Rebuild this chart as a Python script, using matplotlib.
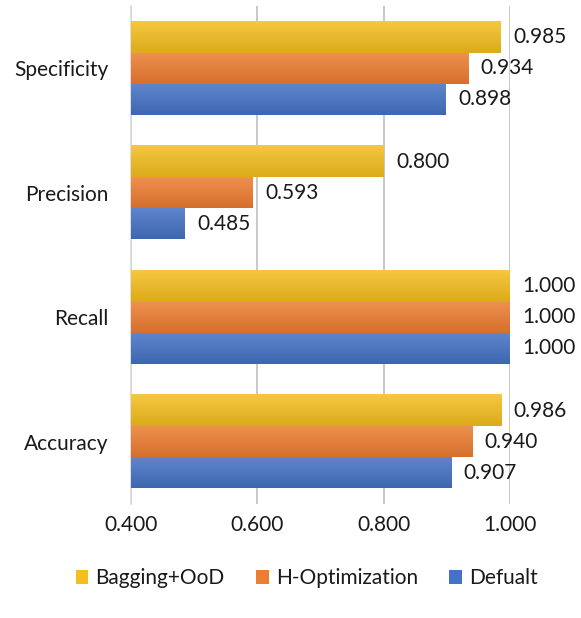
import numpy as np
import matplotlib.pyplot as plt
from matplotlib.colors import to_rgb

# ---- data ----------------------------------------------------------------
categories = ["Accuracy", "Recall", "Precision", "Specificity"]
defualt = [0.907, 1.000, 0.485, 0.898]
h_opt = [0.940, 1.000, 0.593, 0.934]
bagging = [0.986, 1.000, 0.800, 0.985]
xticks = [0.4, 0.6, 0.8, 1.0]

series = [
    ("Defualt", defualt, "#4472C4", -1),
    ("H-Optimization", h_opt, "#ED7D31", 0),
    ("Bagging+OoD", bagging, "#F4BE1E", 1),
]

plt.rcParams["font.family"] = ["Lato", "DejaVu Sans"]
FS = 15

fig = plt.figure(figsize=(5.81, 6.18), dpi=100)
ax = fig.add_axes([0.2255, 0.1845, 0.6523, 0.8058])

bar_h = 0.25
y = np.arange(len(categories))


def shade(c, f):
    r = np.array(to_rgb(c))
    if f > 0:
        return r + (1 - r) * f
    return r * (1 + f)


handles = []
for name, vals, color, off in series:
    bars = ax.barh(y + off * bar_h, np.array(vals) - 0.4, left=0.4, height=bar_h,
                   color=color, zorder=2, label=name)
    handles.append(bars)
    top, bot = shade(color, 0.15), shade(color, -0.1)
    grad = np.linspace(0, 1, 64)[:, None, None]
    img = top * (1 - grad) + bot * grad
    for p in bars.patches:
        x0, y0 = p.get_x(), p.get_y()
        ax.imshow(img, extent=(x0, x0 + p.get_width(), y0, y0 + p.get_height()),
                  aspect="auto", zorder=3, origin="upper", interpolation="bilinear")
    for yi, v in zip(y + off * bar_h, vals):
        ax.annotate(f"{v:.3f}", (v, yi), xytext=(9, 0), textcoords="offset points",
                    va="center", ha="left", fontsize=FS, color="#1a1a1a")

ax.set_xlim(0.4, 1.0)
ax.set_ylim(-0.5, len(categories) - 0.5)
ax.set_xticks(xticks)
ax.set_xticklabels([f"{t:.3f}" for t in xticks], fontsize=FS, color="#1a1a1a")
ax.set_yticks(y)
ax.set_yticklabels(categories, fontsize=FS, color="#1a1a1a")
ax.tick_params(length=0)
ax.tick_params(axis="x", pad=8)
ax.tick_params(axis="y", pad=16)
ax.grid(axis="x", color="#bfbfbf", linewidth=1.2, zorder=0)
for s in ["top", "right", "bottom"]:
    ax.spines[s].set_visible(False)
ax.spines["left"].set_color("#d9d9d9")
ax.spines["left"].set_linewidth(1.2)

leg = fig.legend(handles[::-1], [h.get_label() for h in handles[::-1]],
                 loc="center", bbox_to_anchor=(0.528, 0.064), ncol=3, frameon=False,
                 fontsize=FS, handlelength=0.6, handleheight=0.6,
                 handletextpad=0.35, columnspacing=1.5)
for t in leg.get_texts():
    t.set_color("#1a1a1a")

fig.savefig("out.png", dpi=100)
